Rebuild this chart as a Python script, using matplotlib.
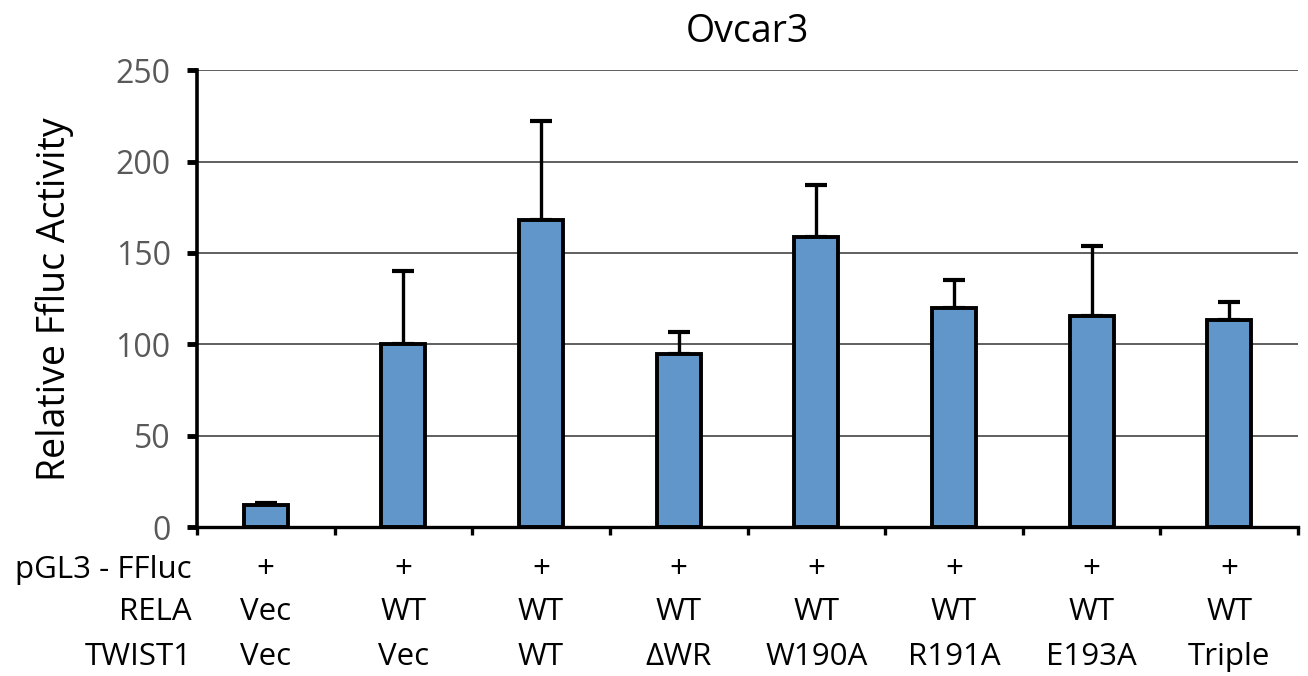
import numpy as np
import matplotlib.pyplot as plt

plt.rcParams['font.family'] = ['Open Sans', 'DejaVu Sans']

# data
pgl3 = ['+', '+', '+', '+', '+', '+', '+', '+']
rela = ['Vec', 'WT', 'WT', 'WT', 'WT', 'WT', 'WT', 'WT']
twist1 = ['Vec', 'Vec', 'WT', '\u0394WR', 'W190A', 'R191A', 'E193A', 'Triple']
values = [12, 100, 168, 95, 159, 120, 115.5, 113.5]
errors = [1.5, 40, 54, 12, 28, 15, 38.5, 9.5]
row_names = ['pGL3 - FFluc', 'RELA', 'TWIST1']

fig = plt.figure(figsize=(13.08, 6.76), dpi=100)
ax = fig.add_axes([0.1506, 0.2198, 0.8418, 0.6766])

x = np.arange(len(values))
lower = np.zeros(len(values))
ax.bar(x, values, width=0.32, color='#6096C9', edgecolor='black',
       linewidth=2.8, zorder=3)
ax.errorbar(x, values, yerr=[lower, errors], fmt='none', ecolor='black',
            elinewidth=2.4, capsize=8, capthick=3.0, zorder=2)

ax.set_xlim(-0.5, len(values) - 0.5)
ax.set_ylim(0, 250)
ax.set_yticks(np.arange(0, 251, 50))
ax.yaxis.grid(True, color='#444444', linewidth=1.2, zorder=0)
ax.set_axisbelow(True)

for s in ['top', 'right']:
    ax.spines[s].set_visible(False)
ax.spines['left'].set_linewidth(2.6)
ax.spines['bottom'].set_linewidth(2.4)

ax.set_xticks(np.arange(-0.5, len(values), 1.0))
ax.set_xticklabels([])
ax.tick_params(axis='x', direction='out', length=6, width=2.4)
ax.tick_params(axis='y', direction='out', length=7, width=3.5,
               labelsize=23, labelcolor='#595959', pad=12)

ax.set_ylabel('Relative Ffluc Activity', fontsize=27, labelpad=30)
ax.set_title('Ovcar3', fontsize=27, pad=20)

# label table under the axis
trans = ax.get_xaxis_transform()
rows = [pgl3, rela, twist1]
row_y = [-0.094, -0.186, -0.284]
for name, labels, yy in zip(row_names, rows, row_y):
    ax.text(-0.005, yy, name, transform=ax.transAxes, ha='right',
            va='center', fontsize=22.5)
    for i, lab in enumerate(labels):
        ax.text(i, yy, lab, transform=trans, ha='center', va='center',
                fontsize=22.5)

fig.savefig('out.png', dpi=100)
